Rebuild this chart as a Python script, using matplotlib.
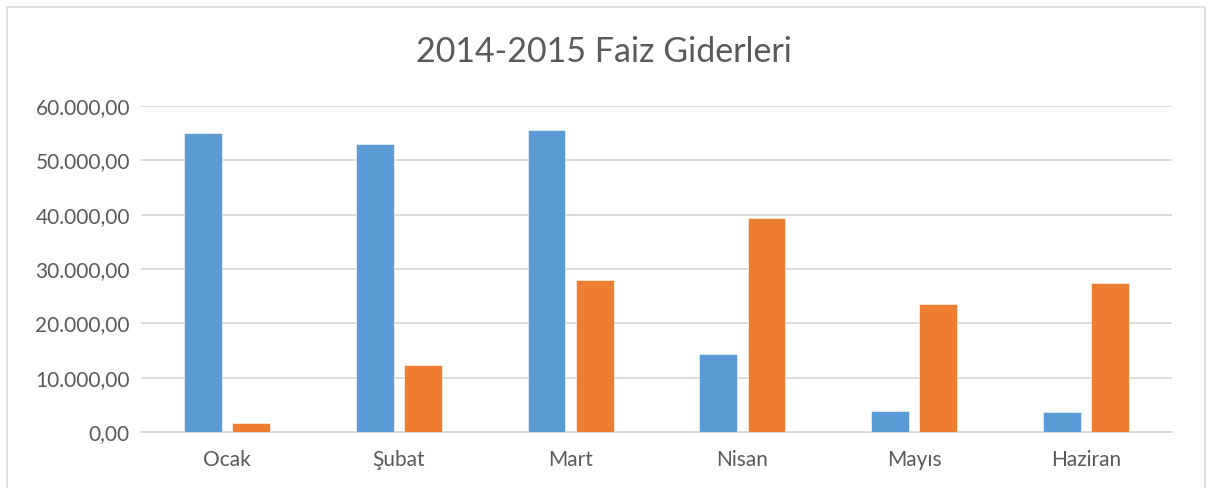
import matplotlib
matplotlib.use("Agg")
import matplotlib.pyplot as plt
import numpy as np
from matplotlib.ticker import FuncFormatter
from matplotlib.patches import Rectangle

categories = ["Ocak", "Şubat", "Mart", "Nisan", "Mayıs", "Haziran"]
series_2014 = [55000, 53000, 55600, 14400, 3900, 3600]
series_2015 = [1600, 12300, 28000, 39300, 23600, 27400]
title = "2014-2015 Faiz Giderleri"

plt.rcParams['font.family'] = ['Lato', 'DejaVu Sans']
text_color = "#595959"

fig = plt.figure(figsize=(12.08, 4.88), dpi=100)
fig.patch.set_facecolor("white")
ax = fig.add_axes([141/1208, 1-432/488, (1172-141)/1208, (432-106)/488])

x = np.arange(len(categories))
w = 0.22
off = 0.14
ax.bar(x - off, series_2014, w, color="#5B9BD5", edgecolor="white", linewidth=0.4, zorder=3)
ax.bar(x + off, series_2015, w, color="#ED7D31", edgecolor="white", linewidth=0.4, zorder=3)

ax.set_xlim(-0.5, len(categories) - 0.5)
ax.set_ylim(0, 60000)
ax.set_yticks(np.arange(0, 60001, 10000))

def fmt(v, pos):
    s = f"{v:,.2f}"
    return s.replace(",", "X").replace(".", ",").replace("X", ".")
ax.yaxis.set_major_formatter(FuncFormatter(fmt))
ax.set_xticks(x)
ax.set_xticklabels(categories)

ax.grid(axis="y", color="#D9D9D9", linewidth=1.3, zorder=0)
for s in ["top", "right", "left"]:
    ax.spines[s].set_visible(False)
ax.spines["bottom"].set_color("#D9D9D9")
ax.spines["bottom"].set_linewidth(1.3)
ax.tick_params(axis="both", length=0, labelsize=15, labelcolor=text_color)
ax.tick_params(axis="y", pad=8)
ax.tick_params(axis="x", pad=13)

fig.text(0.5, 1-52/488, title, ha="center", va="center", fontsize=24.5, color=text_color)

fig.patches.append(Rectangle((7/1208, -0.05), (1205-7)/1208, 1-7/488+0.05,
                             transform=fig.transFigure, fill=False,
                             edgecolor="#D9D9D9", linewidth=1.2))

fig.savefig("out.png", dpi=100, facecolor="white")
